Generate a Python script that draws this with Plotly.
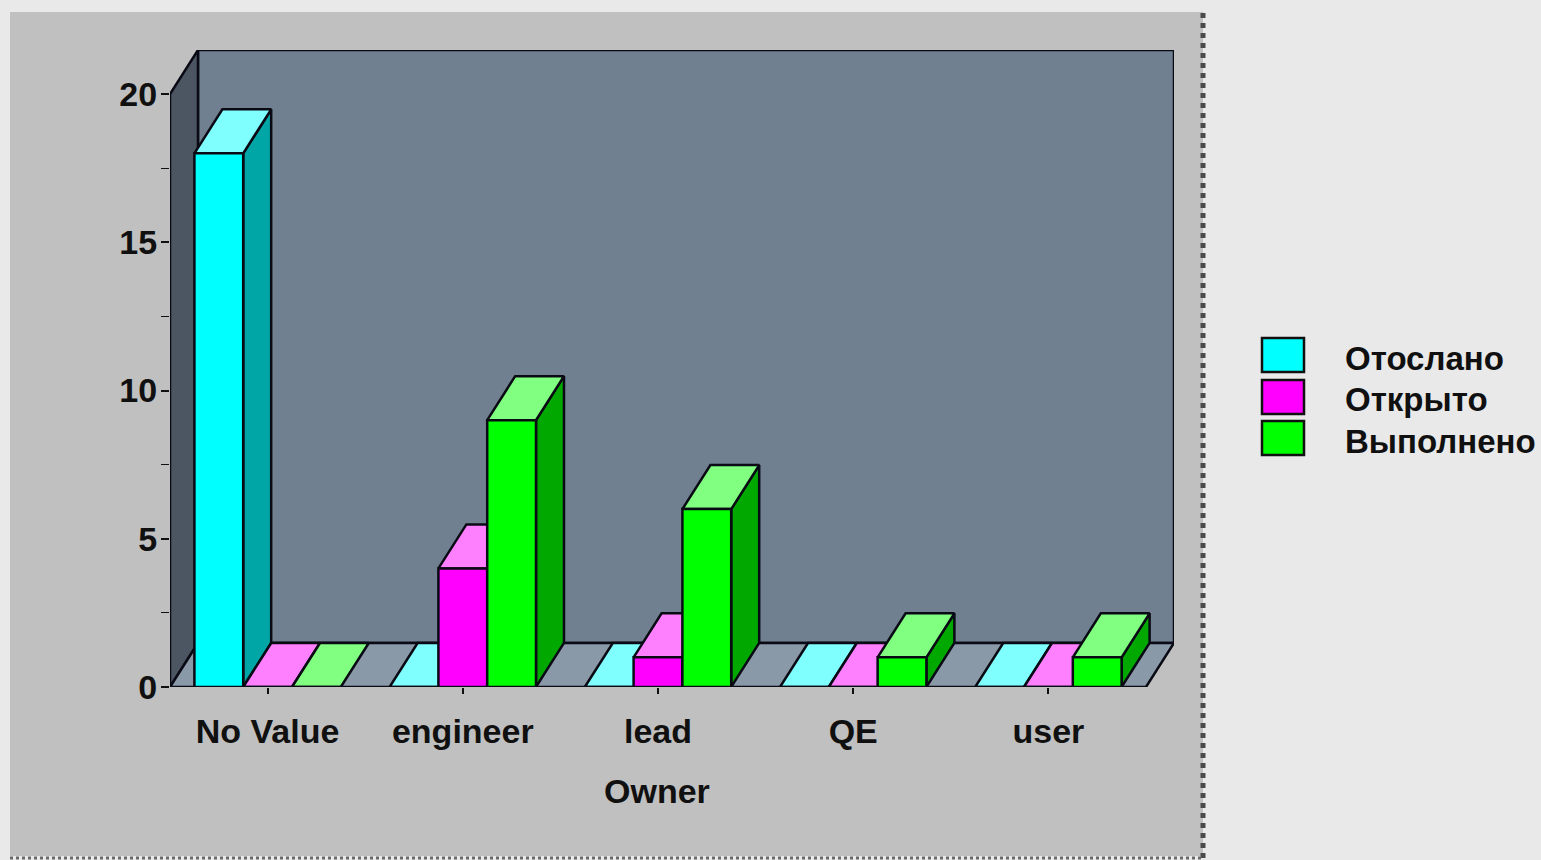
import plotly.graph_objects as go

owners = ["No Value", "engineer", "lead", "QE", "user"]
sent = [18, 0, 0, 0, 0]
opened = [0, 4, 1, 0, 0]
done = [0, 9, 6, 1, 1]
series_names = ["Отослано", "Открыто", "Выполнено"]
y_ticks = [0, 5, 10, 15, 20]

W, H = 1541, 860
FONT = dict(family="Liberation Sans", size=34, color="#101010", weight=700)
LEGEND_FONT = dict(family="Liberation Sans", size=33, color="#101010", weight=700)
EDGE = dict(color="#0a0a14", width=2.5)
front_cols = ["#00ffff", "#ff00ff", "#00ff00"]
top_cols = ["#80ffff", "#ff80ff", "#80ff80"]
side_cols = ["#00a5a5", "#a800a8", "#00a800"]

# depth of the fake-3D projection, in axis units
DX, DY = 0.1434, 1.484
BAR_W = 0.25
XL, XR = -0.5, 4.5
YMAX = 20


def poly(xs, ys, fill, z, name=None, line=EDGE):
    return go.Scatter(x=xs, y=ys, mode="lines", fill="toself", fillcolor=fill, line=line,
                      showlegend=False, hoverinfo="skip", cliponaxis=False, zorder=z, name=name)


fig = go.Figure()
# walls and floor
fig.add_trace(poly([XL + DX, XR + DX, XR + DX, XL + DX, XL + DX],
                   [DY, DY, YMAX + DY, YMAX + DY, DY], "#708090", 0))
fig.add_trace(poly([XL, XL, XL + DX, XL + DX, XL],
                   [0, YMAX, YMAX + DY, DY, 0], "#4c5662", 0))
fig.add_trace(poly([XL, XR, XR + DX, XL + DX, XL],
                   [0, 0, DY, DY, 0], "#8a99a8", 0))

for i, (name, vals) in enumerate(zip(series_names, [sent, opened, done])):
    offs = (i - 1.5) * BAR_W
    sx, sy, tx, ty = [], [], [], []
    for c, v in enumerate(vals):
        x0 = c + offs
        x1 = x0 + BAR_W
        if v > 0:
            sx += [x1, x1, x1 + DX, x1 + DX, x1, None]
            sy += [0, v, v + DY, DY, 0, None]
        tx += [x0, x1, x1 + DX, x0 + DX, x0, None]
        ty += [v, v, v + DY, v + DY, v, None]
    z = 2 * i + 1
    if sx:
        fig.add_trace(poly(sx, sy, side_cols[i], z))
    fig.add_trace(poly(tx, ty, top_cols[i], z))
    fig.add_trace(go.Bar(x=list(range(len(owners))), y=vals, name=name, width=BAR_W,
                         offset=offs, marker=dict(color=front_cols[i], line=EDGE),
                         showlegend=False, cliponaxis=False, zorder=z + 1))

shapes = [
    dict(type="rect", xref="paper", yref="paper", x0=10 / W, x1=1203 / W, y0=1 - 856 / H, y1=1 - 12 / H,
         fillcolor="#c0c0c0", line=dict(width=0), layer="below"),
    dict(type="line", xref="paper", yref="paper", x0=1203 / W, x1=1203 / W, y0=1 - 858 / H, y1=1 - 12 / H,
         line=dict(color="#4a4a4a", width=5, dash="dot"), layer="below"),
    dict(type="line", xref="paper", yref="paper", x0=10 / W, x1=1203 / W, y0=1 - 858 / H, y1=1 - 858 / H,
         line=dict(color="#6a6a6a", width=3, dash="dot"), layer="below"),
]
annotations = [
    dict(text="Owner", xref="paper", yref="paper", x=657 / W, y=1 - 791 / H, showarrow=False,
         xanchor="center", yanchor="middle", font=FONT),
]
legend_y = [355, 397, 438]
for name, col, ly in zip(series_names, front_cols, legend_y):
    shapes.append(dict(type="rect", xref="paper", yref="paper", x0=1262 / W, x1=1304 / W,
                       y0=1 - (ly + 17) / H, y1=1 - (ly - 17) / H, fillcolor=col,
                       line=dict(color="#101010", width=2.5)))
    annotations.append(dict(text=name, xref="paper", yref="paper", x=1343 / W, y=1 - (ly + 3) / H,
                            showarrow=False, xanchor="left", yanchor="middle", font=LEGEND_FONT))

fig.update_layout(
    width=W, height=H, margin=dict(l=0, r=0, t=0, b=0, autoexpand=False),
    paper_bgcolor="#e9e9e9", plot_bgcolor="rgba(0,0,0,0)", barmode="overlay",
    showlegend=False, shapes=shapes, annotations=annotations, font=FONT,
    xaxis=dict(domain=[170 / W, 1174 / W], range=[XL, XR + DX], tickmode="array",
               tickvals=list(range(len(owners))), ticktext=owners, ticks="outside", ticklen=6,
               tickwidth=2, tickcolor="#101010", showgrid=False, zeroline=False, showline=False,
               ticklabelstandoff=8, tickfont=FONT),
    yaxis=dict(domain=[1 - 687 / H, 1 - 50 / H], range=[0, YMAX + DY], tickmode="array",
               tickvals=y_ticks, ticks="outside", ticklen=8, tickwidth=2, tickcolor="#101010",
               minor=dict(tickvals=[2.5, 7.5, 12.5, 17.5], ticks="outside", ticklen=8, tickwidth=1,
                          tickcolor="#101010", showgrid=False),
               showgrid=False, zeroline=False, showline=False, ticklabelstandoff=-3, tickfont=FONT),
)
fig.write_html("out.html", config=dict(displayModeBar=False),
               post_script="document.body.style.margin='0';document.body.style.overflow='hidden';")
